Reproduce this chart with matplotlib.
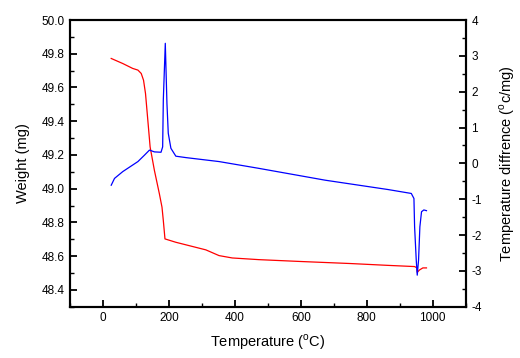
import matplotlib
matplotlib.use("Agg")
import matplotlib.pyplot as plt
from matplotlib.ticker import MultipleLocator, FormatStrFormatter

plt.rcParams['font.family'] = ['Liberation Sans', 'DejaVu Sans']
plt.rcParams['mathtext.fontset'] = 'custom'
plt.rcParams['mathtext.rm'] = 'Liberation Sans'
plt.rcParams['axes.unicode_minus'] = False

# TG curve (weight, left axis)
tg_temp = [25, 60, 90, 106, 116, 123, 129, 136, 143, 156, 171, 179, 183, 188,
           221, 312, 352, 392, 473, 600, 750, 865, 945, 952, 953, 960, 970, 981]
tg_weight = [49.772, 49.742, 49.713, 49.703, 49.683, 49.643, 49.564, 49.406,
             49.247, 49.108, 48.970, 48.890, 48.811, 48.702, 48.682, 48.637,
             48.603, 48.589, 48.579, 48.568, 48.556, 48.545, 48.538, 48.530,
             48.504, 48.518, 48.530, 48.530]

# DTA curve (temperature difference, right axis)
dta_temp = [25, 35, 60, 106, 126, 141, 156, 176, 181, 183, 189, 194, 198,
            206, 221, 252, 352, 473, 674, 864, 935, 943, 945, 950, 953, 957,
            961, 966, 973, 981]
dta_diff = [-0.61, -0.42, -0.23, 0.05, 0.23, 0.37, 0.32, 0.31, 0.46, 1.77, 3.35,
            1.67, 0.84, 0.42, 0.20, 0.16, 0.05, -0.14, -0.47, -0.73, -0.84,
            -0.98, -1.77, -2.70, -3.12, -2.70, -1.77, -1.35, -1.30, -1.32]

fig = plt.figure(figsize=(5.2, 3.58), dpi=100)
ax = fig.add_axes([0.1346, 0.1433, 0.761, 0.8008])
ax2 = ax.twinx()

ax.plot(tg_temp, tg_weight, color='red', lw=0.9)
ax2.plot(dta_temp, dta_diff, color='blue', lw=0.9)

ax.set_xlim(-100, 1100)
ax.set_ylim(48.3, 50.0)
ax2.set_ylim(-4, 4)

ax.xaxis.set_major_locator(MultipleLocator(200))
ax.xaxis.set_minor_locator(MultipleLocator(100))
ax.yaxis.set_major_locator(MultipleLocator(0.2))
ax.yaxis.set_minor_locator(MultipleLocator(0.1))
ax2.yaxis.set_major_locator(MultipleLocator(1))
ax2.yaxis.set_minor_locator(MultipleLocator(0.5))
ax.yaxis.set_major_formatter(FormatStrFormatter('%.1f'))

for a in (ax, ax2):
    for s in a.spines.values():
        s.set_linewidth(1.5)
    a.tick_params(which='major', direction='in', length=5, width=1.3, labelsize=8.5, pad=4)
    a.tick_params(which='minor', direction='in', length=3, width=1.0)

ax.set_xlabel(r'Temperature ($^{\mathrm{o}}$C)', fontsize=10.5, labelpad=6)
ax.set_ylabel('Weight (mg)', fontsize=10.5, labelpad=8)
ax2.set_ylabel(r'Temperature diffrence ($^{\mathrm{o}}$c/mg)', fontsize=10.5, labelpad=11)

fig.savefig('out.png', dpi=100)
